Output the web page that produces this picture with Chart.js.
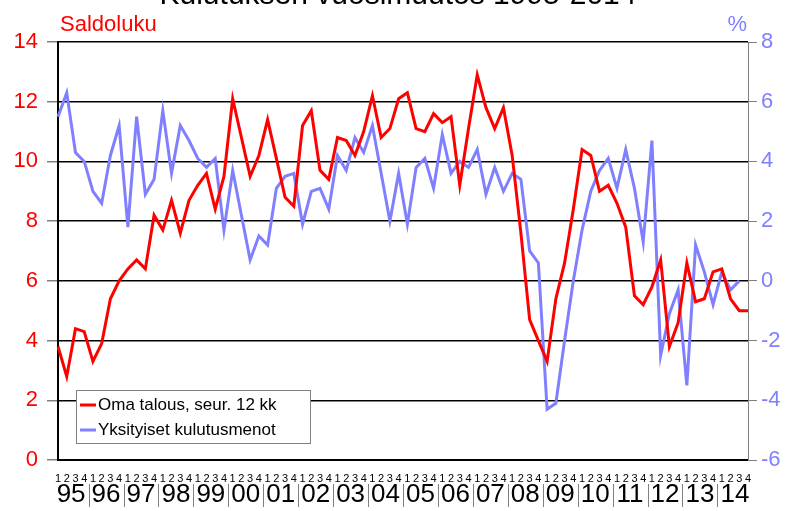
<!DOCTYPE html>
<html>
<head>
<meta charset="utf-8">
<script src="https://cdn.jsdelivr.net/npm/chart.js@4"></script>
<style>
  body { margin: 0; background: #fff; }
  #wrap { width: 792px; height: 511px; }
</style>
</head>
<body>
<div id="wrap"><canvas id="kuluttajaChart" width="792" height="511"></canvas></div>
<script>
// Vuodet ja neljännekset
const vuodet = ['95','96','97','98','99','00','01','02','03','04','05','06','07','08','09','10','11','12','13','14'];
const neljannekset = ['1','2','3','4'];

// Oma talous, seur. 12 kk (saldoluku, vasen akseli)
const omaTalous = [
  3.8, 2.8, 4.4, 4.3, 3.3, 3.9, 5.4, 6.0, 6.4, 6.7, 6.4, 8.2, 7.7, 8.7, 7.6, 8.7,
  9.2, 9.6, 8.4, 9.5, 12.1, 10.8, 9.5, 10.2, 11.4, 10.1, 8.8, 8.5, 11.2, 11.7, 9.7, 9.4,
  10.8, 10.7, 10.2, 11.0, 12.2, 10.8, 11.1, 12.1, 12.3, 11.1, 11.0, 11.6, 11.3, 11.5, 9.2, 11.1,
  12.9, 11.8, 11.1, 11.8, 10.2, 7.6, 4.7, 4.0, 3.3, 5.4, 6.6, 8.4, 10.4, 10.2, 9.0, 9.2,
  8.6, 7.8, 5.5, 5.2, 5.8, 6.7, 3.8, 4.6, 6.6, 5.3, 5.4, 6.3, 6.4, 5.4, 5.0, 5.0
];

// Yksityiset kulutusmenot (vuosimuutos %, oikea akseli)
const kulutusmenot = [
  5.5, 6.3, 4.3, 4.0, 3.0, 2.6, 4.2, 5.2, 1.8, 5.5, 2.9, 3.4, 5.7, 3.6, 5.2, 4.7,
  4.1, 3.8, 4.1, 1.7, 3.7, 2.2, 0.7, 1.5, 1.2, 3.1, 3.5, 3.6, 1.9, 3.0, 3.1, 2.4,
  4.2, 3.7, 4.8, 4.3, 5.2, 3.6, 2.0, 3.6, 1.9, 3.8, 4.1, 3.1, 4.9, 3.6, 4.0, 3.8,
  4.4, 2.9, 3.8, 3.0, 3.6, 3.4, 1.0, 0.6, -4.3, -4.1, -2.0, 0.0, 1.7, 3.0, 3.7, 4.1,
  3.1, 4.4, 3.1, 1.3, 4.7, -2.5, -1.1, -0.3, -3.5, 1.2, 0.3, -0.8, 0.3, -0.3, 0.0, null
];

const vasenTicks = { min: 0, max: 14, step: 2 };
const oikeaTicks = { min: -6, max: 8, step: 2 };

const labels = [];
vuodet.forEach(v => neljannekset.forEach(q => labels.push(v + '/' + q)));

const fontti = '"Liberation Sans", Arial, sans-serif';
const punainen = '#ff0000';
const sininen = '#8080ff';

// otsikot, vuosirivi ja selite piirretään itse
const lisaPiirto = {
  id: 'lisaPiirto',
  afterDraw(chart) {
    const c = chart.ctx;
    const x = chart.scales.x;
    const area = chart.chartArea;
    c.save();

    // pääotsikko (leikkautuu yläreunaan)
    c.fillStyle = '#000';
    c.font = '30px ' + fontti;
    c.textAlign = 'center';
    c.textBaseline = 'alphabetic';
    c.fillText('Kulutuksen vuosimuutos 1995-2014', 398, 4);

    // akselien otsikot
    c.font = '22px ' + fontti;
    c.textAlign = 'left';
    c.fillStyle = punainen;
    c.fillText('Saldoluku', 60, 31);
    c.textAlign = 'right';
    c.fillStyle = sininen;
    c.fillText('%', 747, 31);

    // vuodet ja erottimet
    c.font = '26px ' + fontti;
    c.textAlign = 'center';
    c.textBaseline = 'middle';
    c.fillStyle = '#000';
    vuodet.forEach((v, i) => {
      const x1 = x.getPixelForValue(i * 4);
      const x4 = x.getPixelForValue(i * 4 + 3);
      c.fillText(v, (x1 + x4) / 2, 495);
      if (i > 0) {
        const xs = (x1 + x.getPixelForValue(i * 4 - 1)) / 2;
        c.strokeStyle = '#808080';
        c.lineWidth = 1;
        c.beginPath();
        c.moveTo(Math.round(xs) + 0.5, 484);
        c.lineTo(Math.round(xs) + 0.5, 507);
        c.stroke();
      }
    });

    // selite
    const lx = area.left + 18, ly = 390, lw = 234, lh = 53;
    c.fillStyle = '#fff';
    c.fillRect(lx, ly, lw, lh);
    c.strokeStyle = '#808080';
    c.lineWidth = 1;
    c.strokeRect(lx + 0.5, ly + 0.5, lw, lh);
    c.font = '17px ' + fontti;
    c.textAlign = 'left';
    c.textBaseline = 'middle';
    chart.data.datasets.forEach((ds, i) => {
      const yy = ly + 15 + i * 25;
      c.strokeStyle = ds.borderColor;
      c.lineWidth = 3;
      c.beginPath();
      c.moveTo(lx + 4, yy);
      c.lineTo(lx + 20, yy);
      c.stroke();
      c.fillStyle = '#000';
      c.fillText(ds.label, lx + 22, yy);
    });
    c.restore();
  }
};

const ctx = document.getElementById('kuluttajaChart').getContext('2d');
const kuluttajaChart = new Chart(ctx, {
  type: 'line',
  data: {
    labels: labels,
    datasets: [{
      label: 'Oma talous, seur. 12 kk',
      data: omaTalous,
      borderColor: punainen,
      borderWidth: 3,
      pointRadius: 0,
      tension: 0,
      yAxisID: 'y'
    }, {
      label: 'Yksityiset kulutusmenot',
      data: kulutusmenot,
      borderColor: sininen,
      borderWidth: 3,
      pointRadius: 0,
      tension: 0,
      yAxisID: 'y2'
    }]
  },
  options: {
    responsive: false,
    animation: false,
    layout: { padding: { top: 42, left: 0, right: 0, bottom: 0 } },
    plugins: {
      legend: { display: false },
      tooltip: { enabled: false }
    },
    scales: {
      x: {
        type: 'category',
        offset: false,
        afterFit(s) { s.height = 51; },
        grid: { display: false },
        border: { color: '#000', width: 2 },
        ticks: {
          autoSkip: false,
          maxRotation: 0,
          padding: 4,
          color: '#000',
          font: { family: fontti, size: 11 },
          callback(v) { return this.getLabelForValue(v).split('/')[1]; }
        }
      },
      y: {
        position: 'left',
        min: vasenTicks.min,
        max: vasenTicks.max,
        afterFit(s) { s.width = 58; },
        border: { color: '#000', width: 2 },
        grid: { color: '#000', lineWidth: 1.5, tickColor: '#808080', tickLength: 11 },
        ticks: {
          stepSize: vasenTicks.step,
          padding: 9,
          color: punainen,
          font: { family: fontti, size: 22 }
        }
      },
      y2: {
        position: 'right',
        min: oikeaTicks.min,
        max: oikeaTicks.max,
        afterFit(s) { s.width = 44; },
        border: { color: '#808080', width: 1 },
        grid: { drawOnChartArea: false, color: '#808080', tickLength: 9 },
        ticks: {
          stepSize: oikeaTicks.step,
          padding: 4,
          color: sininen,
          font: { family: fontti, size: 22 }
        }
      }
    }
  },
  plugins: [lisaPiirto]
});
</script>
</body>
</html>
